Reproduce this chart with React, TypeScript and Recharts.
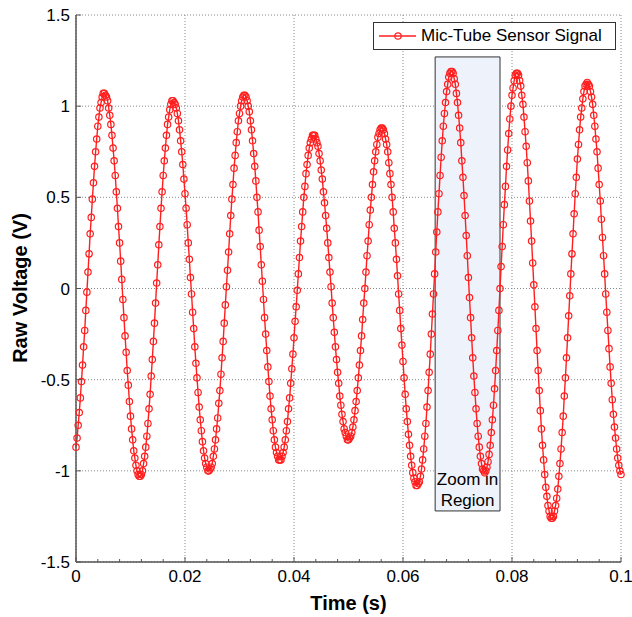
import React from 'react';
import {
  LineChart,
  Line,
  XAxis,
  YAxis,
  CartesianGrid,
  ReferenceArea,
  Legend,
} from 'recharts';

// sampled at 5 kHz, one value every 0.2 ms from 0 to 0.1 s
const SAMPLE_INTERVAL = 0.0002;

const voltage = [
  -0.87, -0.82, -0.75, -0.68, -0.6, -0.51, -0.42, -0.32, -0.23, -0.12, -0.02, 0.09, 0.19, 0.3,
  0.39, 0.49, 0.58, 0.67, 0.75, 0.82, 0.89, 0.94, 0.99, 1.02, 1.05, 1.07, 1.07,
  1.06, 1.05, 1.03, 0.99, 0.95, 0.9, 0.84, 0.77, 0.7, 0.62, 0.53, 0.44, 0.34, 0.25, 0.15, 0.05,
  -0.06, -0.16, -0.26, -0.35, -0.45, -0.53, -0.62, -0.7, -0.77, -0.83, -0.89, -0.93, -0.97, -1.0,
  -1.02, -1.03,
  -1.03, -1.02, -1.0, -0.96, -0.92, -0.87, -0.81, -0.74, -0.66, -0.58, -0.48, -0.39, -0.29, -0.19,
  -0.08, 0.03, 0.13, 0.24, 0.34, 0.44, 0.53, 0.62, 0.7, 0.77, 0.84, 0.9, 0.94, 0.98, 1.01, 1.03,
  1.03,
  1.02, 1.01, 0.99, 0.96, 0.92, 0.87, 0.81, 0.75, 0.68, 0.6, 0.52, 0.44, 0.35, 0.25, 0.16, 0.06,
  -0.03, -0.13, -0.22, -0.32, -0.41, -0.49, -0.57, -0.65, -0.72, -0.78, -0.84, -0.89, -0.93, -0.96,
  -0.98, -1.0, -1.0,
  -0.99, -0.98, -0.96, -0.92, -0.88, -0.83, -0.77, -0.71, -0.63, -0.56, -0.47, -0.38, -0.29, -0.19,
  -0.09, 0.01, 0.1, 0.2, 0.3, 0.4, 0.49, 0.57, 0.66, 0.73, 0.8, 0.86, 0.92, 0.96, 1.0, 1.03, 1.05,
  1.06,
  1.06, 1.05, 1.03, 1.0, 0.97, 0.92, 0.87, 0.81, 0.74, 0.67, 0.59, 0.5, 0.42, 0.32, 0.23, 0.13,
  0.04, -0.06, -0.16, -0.25, -0.34, -0.43, -0.51, -0.59, -0.66, -0.72, -0.78, -0.83, -0.87, -0.9,
  -0.92, -0.94, -0.94,
  -0.94, -0.92, -0.9, -0.87, -0.83, -0.78, -0.73, -0.66, -0.6, -0.52, -0.44, -0.36, -0.27, -0.18,
  -0.1, -0.01, 0.08, 0.17, 0.26, 0.34, 0.42, 0.5, 0.56, 0.63, 0.68, 0.73, 0.77, 0.8, 0.82, 0.84,
  0.84,
  0.84, 0.82, 0.8, 0.78, 0.74, 0.7, 0.65, 0.6, 0.53, 0.47, 0.4, 0.33, 0.25, 0.17, 0.09, 0.01,
  -0.08, -0.16, -0.24, -0.32, -0.39, -0.46, -0.52, -0.59, -0.64, -0.69, -0.73, -0.77, -0.79, -0.81,
  -0.83, -0.83,
  -0.82, -0.81, -0.79, -0.76, -0.72, -0.67, -0.62, -0.56, -0.49, -0.42, -0.34, -0.26, -0.17, -0.08,
  0.0, 0.09, 0.18, 0.26, 0.35, 0.43, 0.5, 0.57, 0.64, 0.7, 0.75, 0.79, 0.83, 0.85, 0.87, 0.88,
  0.88, 0.87, 0.85, 0.82, 0.79, 0.75, 0.69, 0.63, 0.57, 0.5, 0.42, 0.33, 0.25, 0.16, 0.07, -0.03,
  -0.12, -0.22, -0.31, -0.4, -0.49, -0.58, -0.66, -0.73, -0.8, -0.86, -0.92, -0.97, -1.01, -1.04,
  -1.06, -1.08, -1.08,
  -1.07, -1.06, -1.03, -0.99, -0.94, -0.88, -0.81, -0.74, -0.65, -0.56, -0.46, -0.36, -0.25, -0.14,
  -0.03, 0.08, 0.2, 0.31, 0.42, 0.52, 0.62, 0.72, 0.81, 0.89, 0.96, 1.02, 1.08, 1.12, 1.16, 1.18,
  1.19,
  1.19, 1.18, 1.15, 1.12, 1.07, 1.02, 0.95, 0.88, 0.8, 0.7, 0.61, 0.51, 0.4, 0.29, 0.18, 0.06,
  -0.05, -0.16, -0.27, -0.38, -0.48, -0.57, -0.66, -0.74, -0.81, -0.87, -0.92, -0.96, -0.99, -1.0,
  -1.01,
  -1.0, -0.98, -0.95, -0.91, -0.86, -0.79, -0.72, -0.64, -0.55, -0.45, -0.34, -0.23, -0.12, 0.0,
  0.12, 0.23, 0.35, 0.46, 0.56, 0.67, 0.76, 0.85, 0.93, 1.0, 1.06, 1.1, 1.14, 1.17, 1.18,
  1.18, 1.17, 1.14, 1.11, 1.06, 1.01, 0.94, 0.86, 0.78, 0.69, 0.59, 0.48, 0.37, 0.26, 0.14, 0.02,
  -0.1, -0.22, -0.34, -0.45, -0.56, -0.67, -0.77, -0.86, -0.94, -1.02, -1.09, -1.14, -1.19, -1.22,
  -1.25, -1.26,
  -1.26, -1.25, -1.22, -1.19, -1.15, -1.1, -1.03, -0.96, -0.88, -0.79, -0.7, -0.59, -0.49, -0.38,
  -0.27, -0.15, -0.04, 0.08, 0.19, 0.3, 0.41, 0.52, 0.61, 0.71, 0.79, 0.87, 0.94, 0.99, 1.04, 1.08,
  1.11, 1.12, 1.13,
  1.12, 1.11, 1.08, 1.05, 1.01, 0.95, 0.89, 0.82, 0.75, 0.66, 0.57, 0.48, 0.38, 0.28, 0.18, 0.08,
  -0.03, -0.13, -0.23, -0.33, -0.43, -0.52, -0.61, -0.69, -0.76, -0.82, -0.88, -0.93, -0.97, -1.0,
  -1.02,
];

const xMajorTicks = [0, 0.02, 0.04, 0.06, 0.08, 0.1];
const xAllTicks = [
  0, 0.004, 0.008, 0.012, 0.016, 0.02, 0.024, 0.028, 0.032, 0.036, 0.04, 0.044, 0.048, 0.052,
  0.056, 0.06, 0.064, 0.068, 0.072, 0.076, 0.08, 0.084, 0.088, 0.092, 0.096, 0.1,
];
const yTicks = [-1.5, -1, -0.5, 0, 0.5, 1, 1.5];

// zoom-in box, in data units
const zoomX = [0.0659, 0.0778];
const zoomY = [-1.22, 1.27];

const data = voltage.map((v, i) => ({ t: +(i * SAMPLE_INTERVAL).toFixed(4), v }));

const FONT = '"Liberation Sans", Arial, sans-serif';
const AXIS = '#555';
const RED = '#ff1f1f';

const isMajor = (v: number) => xMajorTicks.some((m) => Math.abs(m - v) < 1e-9);

function BottomTick({ x, y, payload }: any) {
  const major = isMajor(payload.value);
  return (
    <g>
      <line x1={x} x2={x} y1={y} y2={y - (major ? 5 : 3)} stroke={AXIS} />
      {major && (
        <text x={x} y={y + 20} textAnchor="middle" fontSize={17} fontFamily={FONT} fill="#000">
          {String(payload.value)}
        </text>
      )}
    </g>
  );
}

function TopTick({ x, y, payload }: any) {
  const major = isMajor(payload.value);
  return <line x1={x} x2={x} y1={y} y2={y + (major ? 5 : 3)} stroke={AXIS} />;
}

function LeftTick({ x, y, payload }: any) {
  return (
    <g>
      <line x1={x} x2={x + 5} y1={y} y2={y} stroke={AXIS} />
      <text x={x - 6} y={y + 6} textAnchor="end" fontSize={17} fontFamily={FONT} fill="#000">
        {String(payload.value)}
      </text>
    </g>
  );
}

function RightTick({ x, y }: any) {
  return <line x1={x} x2={x - 5} y1={y} y2={y} stroke={AXIS} />;
}

function ZoomLabel({ viewBox }: any) {
  const cx = viewBox.x + viewBox.width / 2;
  const bottom = viewBox.y + viewBox.height;
  return (
    <g fontFamily={FONT} fontSize={17} fill="#000">
      <text x={cx} y={bottom - 26} textAnchor="middle">Zoom in</text>
      <text x={cx} y={bottom - 5} textAnchor="middle">Region</text>
    </g>
  );
}

function LegendBox() {
  return (
    <div
      style={{
        width: 243,
        height: 28,
        border: '1px solid #333',
        background: '#fff',
        display: 'flex',
        alignItems: 'center',
        fontFamily: FONT,
        fontSize: 17,
        color: '#000',
        boxSizing: 'border-box',
      }}
    >
      <svg width={46} height={20}>
        <line x1={5} x2={42} y1={10} y2={10} stroke={RED} strokeWidth={1.4} />
        <circle cx={24} cy={10} r={3.2} stroke={RED} strokeWidth={1.2} fill="none" />
      </svg>
      <span style={{ marginLeft: 1 }}>Mic-Tube Sensor Signal</span>
    </div>
  );
}

export default function App() {
  return (
    <div style={{ position: 'absolute', left: 0, top: 0, width: 632, height: 617, background: '#fff' }}>
      <LineChart width={632} height={617} data={data} margin={{ top: 15, right: 11, bottom: 0, left: 0 }}>
        <CartesianGrid
          stroke="#888"
          strokeDasharray="1 2"
          verticalValues={xMajorTicks}
          horizontalValues={yTicks}
        />
        <XAxis
          dataKey="t"
          type="number"
          domain={[0, 0.1]}
          ticks={xAllTicks}
          interval={0}
          height={55}
          tickSize={0}
          tickMargin={0}
          tickLine={false}
          axisLine={{ stroke: AXIS, strokeWidth: 1.5 }}
          tick={(p: any) => <BottomTick {...p} />}
          label={(props: any) => {
            const vb = props.viewBox;
            return (
              <text
                x={vb.x + vb.width / 2}
                y={vb.y + 48}
                textAnchor="middle"
                fontFamily={FONT}
                fontWeight="bold"
                fontSize={20}
                fill="#000"
              >
                Time (s)
              </text>
            );
          }}
        />
        <XAxis
          xAxisId="top"
          orientation="top"
          dataKey="t"
          type="number"
          domain={[0, 0.1]}
          ticks={xAllTicks}
          interval={0}
          height={0}
          tickSize={0}
          tickMargin={0}
          tickLine={false}
          axisLine={{ stroke: AXIS, strokeWidth: 1.5 }}
          tick={(p: any) => <TopTick {...p} />}
        />
        <YAxis
          type="number"
          domain={[-1.5, 1.5]}
          ticks={yTicks}
          interval={0}
          width={76}
          tickSize={0}
          tickMargin={0}
          tickLine={false}
          axisLine={{ stroke: AXIS, strokeWidth: 1.5 }}
          tick={(p: any) => <LeftTick {...p} />}
          label={() => (
            <text
              x={27}
              y={288}
              transform="rotate(-90 27 288)"
              textAnchor="middle"
              fontFamily={FONT}
              fontWeight="bold"
              fontSize={20}
              fill="#000"
            >
              Raw Voltage (V)
            </text>
          )}
        />
        <YAxis
          yAxisId="right"
          orientation="right"
          type="number"
          domain={[-1.5, 1.5]}
          ticks={yTicks}
          interval={0}
          width={0}
          tickSize={0}
          tickMargin={0}
          tickLine={false}
          axisLine={{ stroke: AXIS, strokeWidth: 1.5 }}
          tick={(p: any) => <RightTick {...p} />}
        />
        <ReferenceArea
          x1={zoomX[0]}
          x2={zoomX[1]}
          y1={zoomY[0]}
          y2={zoomY[1]}
          fill="#eef2fa"
          fillOpacity={1}
          stroke="#333"
          strokeWidth={1}
          label={(p: any) => <ZoomLabel {...p} />}
        />
        <Line
          type="linear"
          dataKey="v"
          name="Mic-Tube Sensor Signal"
          stroke={RED}
          strokeWidth={1.4}
          dot={{ r: 3.2, stroke: RED, strokeWidth: 1.2, fill: 'none' }}
          isAnimationActive={false}
        />
        <Legend
          layout="vertical"
          align="center"
          verticalAlign="middle"
          wrapperStyle={{ top: 22, left: 373, width: 243 }}
          content={() => <LegendBox />}
        />
      </LineChart>
    </div>
  );
}
